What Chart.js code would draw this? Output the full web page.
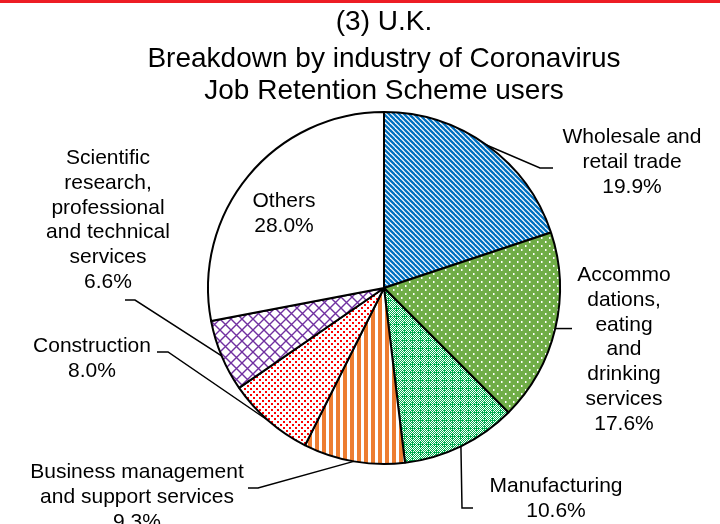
<!DOCTYPE html>
<html>
<head>
<meta charset="utf-8">
<script src="https://cdn.jsdelivr.net/npm/chart.js@4/dist/chart.umd.min.js"></script>
<style>
  html, body { margin: 0; padding: 0; background: #fff; }
  #wrap { position: relative; width: 720px; height: 524px; }
  #topbar { position: absolute; left: 0; top: 0; width: 720px; height: 3px; background: #ED1C24; }
</style>
</head>
<body>
<div id="wrap">
  <canvas id="chart" width="720" height="524"></canvas>
  <div id="topbar"></div>
</div>
<script>
"use strict";

// data, clockwise from 12 o'clock
const industries = [
  ["Wholesale and", "retail trade"],
  ["Accommo", "dations,", "eating", "and", "drinking", "services"],
  ["Manufacturing"],
  ["Business management", "and support services"],
  ["Construction"],
  ["Scientific", "research,", "professional", "and technical", "services"],
  ["Others"]
];
const shares = [19.9, 17.6, 10.6, 9.3, 8.0, 6.6, 28.0];
const titleLines = ["(3) U.K.", "Breakdown by industry of Coronavirus", "Job Retention Scheme users"];

const FONT = '"Liberation Sans", Arial, sans-serif';

// where each label sits (first baseline) and the bend points of its leader line
const labelSpots = [
  { x: 632, y: 143, leader: [[553, 168], [540, 168]] },
  { x: 624, y: 281, leader: [[572, null]] },
  { x: 556, y: 492, leader: [[473, 508], [462, 508]] },
  { x: 137, y: 478, leader: [[248, 488], [258, 488]] },
  { x: 92, y: 352, leader: [[157, 352], [168, 352]] },
  { x: 108, y: 164, leader: [[125, 300], [135, 300]] },
  { x: 284, y: 207, leader: null }
];

function makePattern(w, h, draw) {
  const c = document.createElement("canvas");
  c.width = w;
  c.height = h;
  const g = c.getContext("2d");
  draw(g, w, h);
  return g.createPattern(c, "repeat");
}

const patterns = [
  // blue diagonal hatch
  makePattern(5, 5, function (g, w, h) {
    g.fillStyle = "#fff";
    g.fillRect(0, 0, w, h);
    g.strokeStyle = "#0070C0";
    g.lineWidth = 2.3;
    for (let k = -1; k <= 1; k++) {
      g.beginPath();
      g.moveTo(k * w - 1, -1);
      g.lineTo(k * w + w + 1, h + 1);
      g.stroke();
    }
  }),
  // green with white dots
  makePattern(8, 8, function (g, w, h) {
    g.fillStyle = "#70AD47";
    g.fillRect(0, 0, w, h);
    g.fillStyle = "#fff";
    g.fillRect(1, 1, 1.5, 2);
    g.fillRect(5, 5, 1.5, 2);
  }),
  // green fine checker with crosses
  makePattern(8, 8, function (g, w, h) {
    g.fillStyle = "#00B050";
    g.fillRect(0, 0, w, h);
    g.fillStyle = "#fff";
    for (let i = 0; i < w; i++) {
      for (let j = 0; j < h; j++) {
        const cross = (i === 4 && j >= 2 && j <= 6) || (j === 4 && i >= 2 && i <= 6);
        if ((i + j) % 2 === 0 && !cross) g.fillRect(i, j, 1, 1);
      }
    }
  }),
  // orange vertical stripes
  makePattern(7, 4, function (g, w, h) {
    g.fillStyle = "#fff";
    g.fillRect(0, 0, w, h);
    g.fillStyle = "#ED7D31";
    g.fillRect(0, 0, 4, h);
  }),
  // red dots on white
  makePattern(6, 6, function (g, w, h) {
    g.fillStyle = "#fff";
    g.fillRect(0, 0, w, h);
    g.fillStyle = "#FF0000";
    g.fillRect(1, 1, 2, 2);
    g.fillRect(4, 4, 2, 2);
  }),
  // purple lattice
  makePattern(11, 11, function (g, w, h) {
    g.fillStyle = "#fff";
    g.fillRect(0, 0, w, h);
    g.strokeStyle = "#7030A0";
    g.lineWidth = 1.4;
    g.beginPath();
    g.moveTo(0, 0);
    g.lineTo(w, h);
    g.moveTo(w, 0);
    g.lineTo(0, h);
    g.stroke();
  }),
  "#ffffff"
];

const labelPlugin = {
  id: "pieLabels",
  afterDraw(chart) {
    const ctx = chart.ctx;
    const arcs = chart.getDatasetMeta(0).data;
    ctx.save();

    // title
    ctx.fillStyle = "#000";
    ctx.textAlign = "center";
    ctx.textBaseline = "alphabetic";
    ctx.font = "28px " + FONT;
    const titleBase = [30, 67, 99];
    titleLines.forEach(function (t, i) {
      ctx.fillText(t, 384, titleBase[i]);
    });

    // leader lines
    ctx.strokeStyle = "#000";
    ctx.lineWidth = 1.5;
    arcs.forEach(function (arc, i) {
      const spot = labelSpots[i];
      if (!spot.leader) return;
      const p = arc.getProps(["x", "y", "startAngle", "endAngle", "outerRadius"], true);
      const mid = (p.startAngle + p.endAngle) / 2;
      const ax = p.x + Math.cos(mid) * p.outerRadius;
      const ay = p.y + Math.sin(mid) * p.outerRadius;
      ctx.beginPath();
      spot.leader.forEach(function (pt, j) {
        const y = pt[1] === null ? ay : pt[1];
        if (j === 0) ctx.moveTo(pt[0], y);
        else ctx.lineTo(pt[0], y);
      });
      ctx.lineTo(ax, ay);
      ctx.stroke();
    });

    // labels
    ctx.font = "21px " + FONT;
    industries.forEach(function (lines, i) {
      const spot = labelSpots[i];
      const all = lines.concat([shares[i].toFixed(1) + "%"]);
      all.forEach(function (t, j) {
        ctx.fillText(t, spot.x, spot.y + j * 24.8);
      });
    });
    ctx.restore();
  }
};

const data = {
  labels: industries.map(function (l) { return l.join(" "); }),
  datasets: [
    {
      data: shares,
      backgroundColor: patterns,
      borderColor: "#000",
      borderWidth: 2
    }
  ]
};

const config = {
  type: "pie",
  data: data,
  options: {
    responsive: false,
    animation: false,
    radius: 176,
    layout: { padding: { left: 48, right: 0, top: 52, bottom: 0 } },
    plugins: {
      legend: { display: false },
      tooltip: { enabled: false }
    }
  },
  plugins: [labelPlugin]
};

const myChart = new Chart(document.getElementById("chart"), config);
</script>
</body>
</html>
